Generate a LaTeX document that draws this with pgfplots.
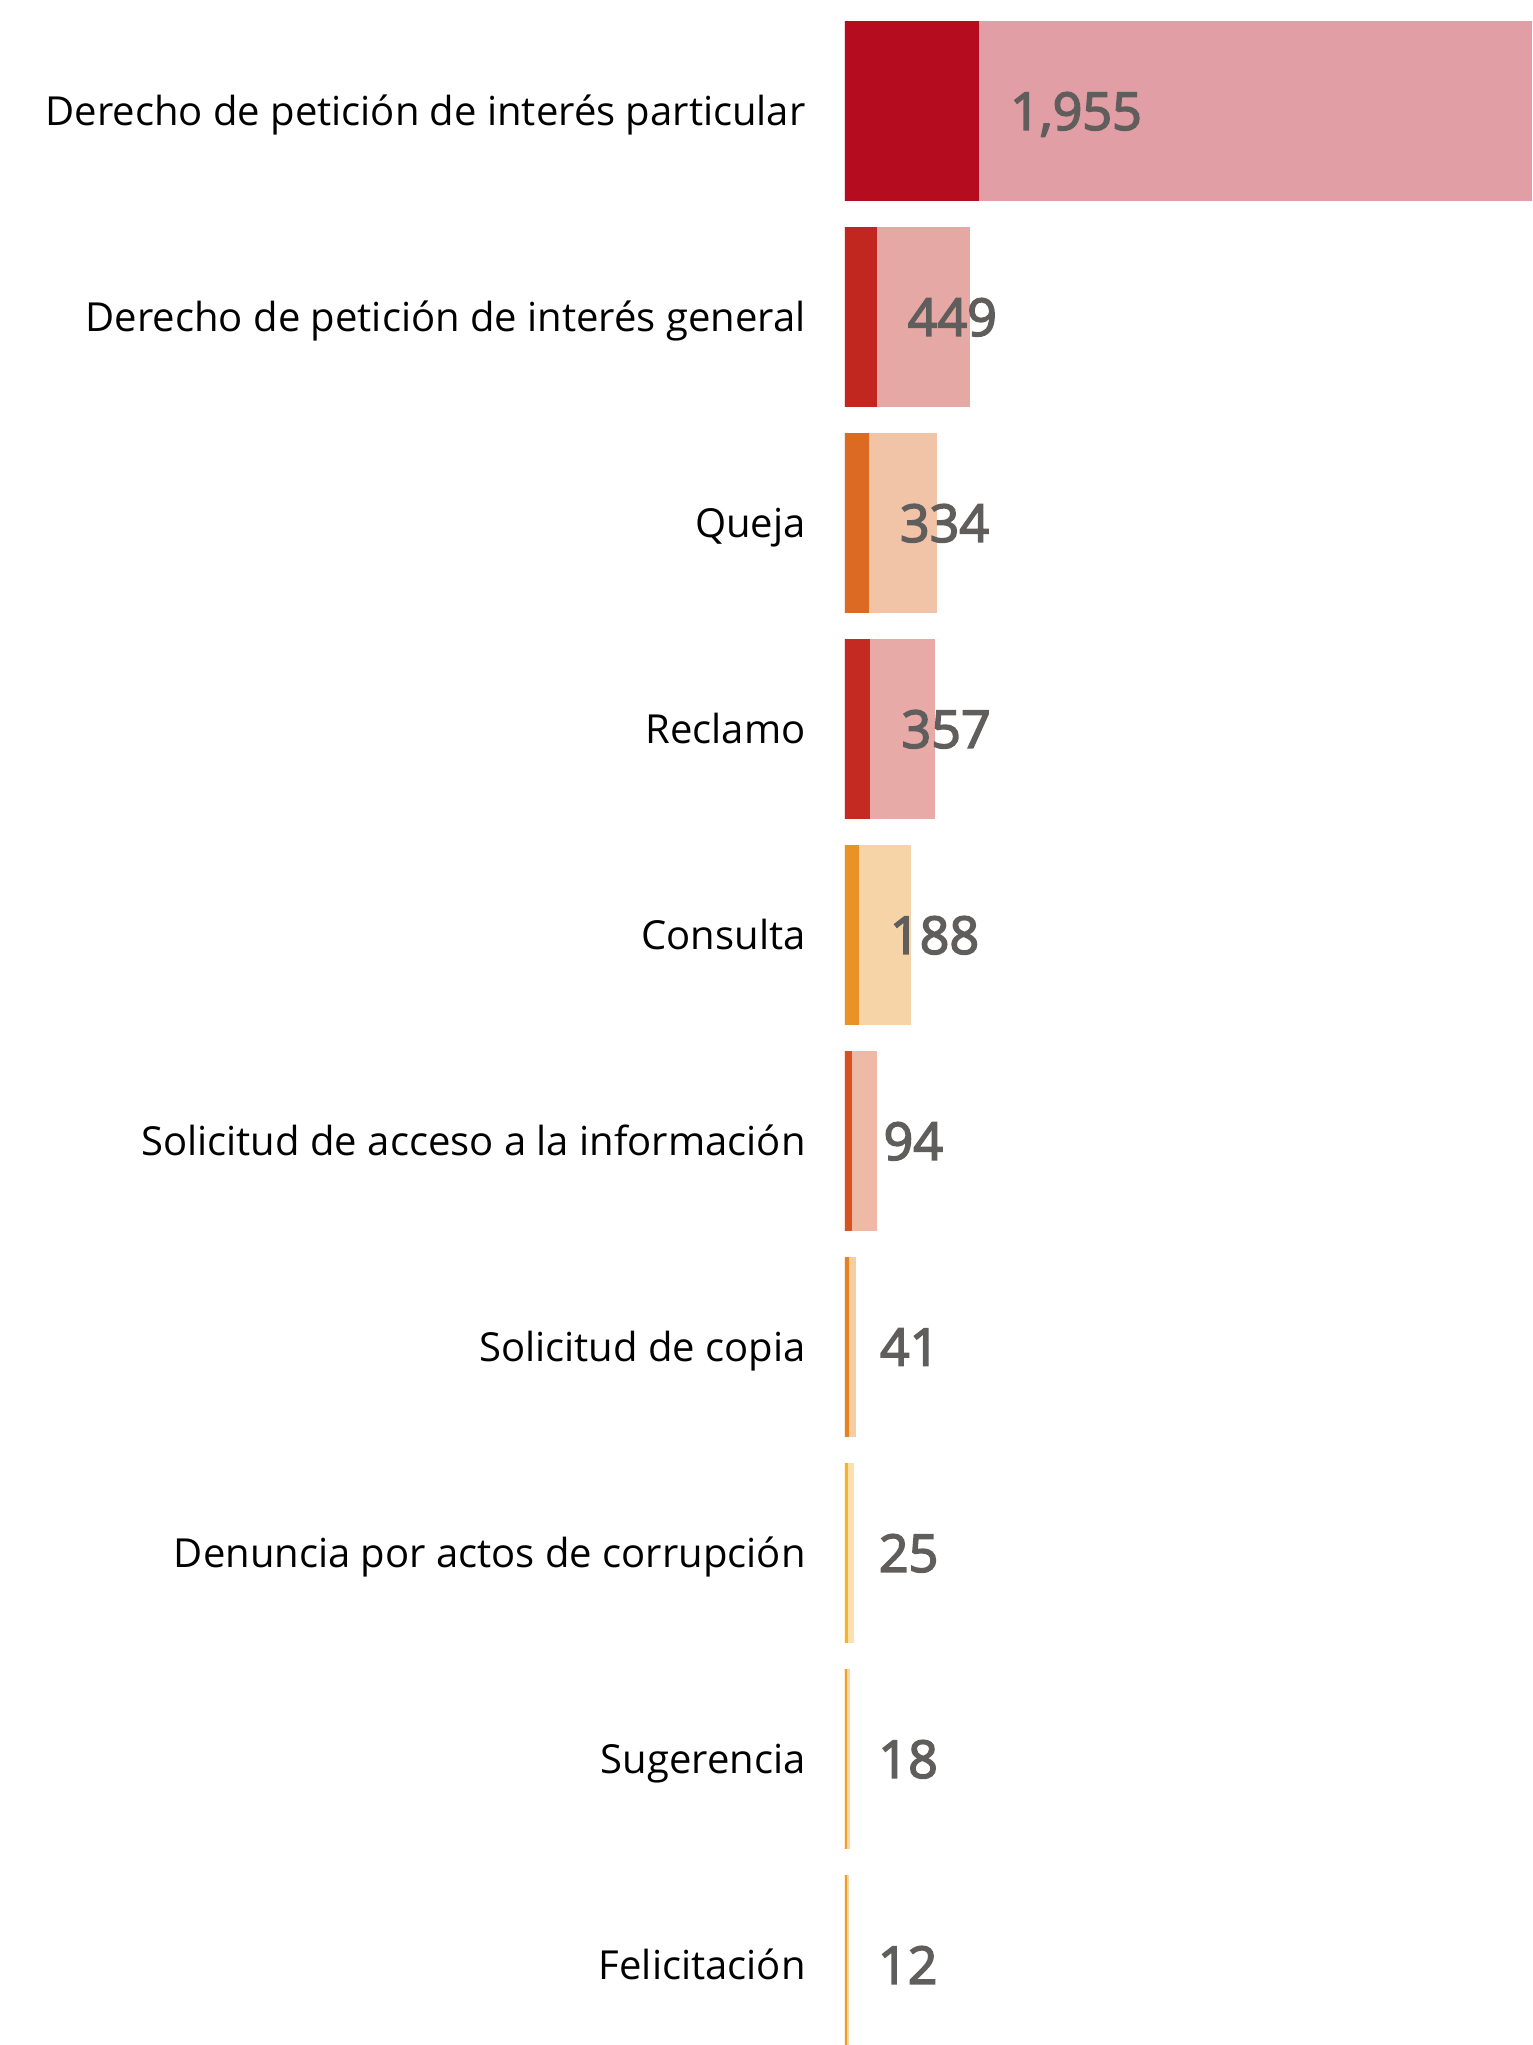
\documentclass[border=0pt]{standalone}
\usepackage{fontspec}
\setmainfont{Open Sans}
\newfontfamily\valfont{Open Sans}[FakeBold=3]
\usepackage{pgfplots}
\pgfplotsset{compat=1.18}
\definecolor{D1}{HTML}{B50D1F}
\definecolor{D2}{HTML}{C1261F}
\definecolor{D3}{HTML}{DC6A22}
\definecolor{D4}{HTML}{C42A22}
\definecolor{D5}{HTML}{EA9324}
\definecolor{D6}{HTML}{D6521F}
\definecolor{D7}{HTML}{E5821F}
\definecolor{D8}{HTML}{F9B12B}
\definecolor{D9}{HTML}{F0A025}
\definecolor{D10}{HTML}{EE9D26}
\colorlet{L1}{D1!40!white}
\colorlet{L2}{D2!40!white}
\colorlet{L3}{D3!40!white}
\colorlet{L4}{D4!40!white}
\colorlet{L5}{D5!40!white}
\colorlet{L6}{D6!40!white}
\colorlet{L7}{D7!40!white}
\colorlet{L8}{D8!40!white}
\colorlet{L9}{D9!40!white}
\colorlet{L10}{D10!40!white}
\definecolor{valgray}{HTML}{605E5C}
\begin{document}
\begin{tikzpicture}
\begin{axis}[
  name=ax,
  scale only axis,
  width=171.75pt, height=511.25pt,
  xmin=0, xmax=10100,
  ymin=-0.5388, ymax=9.3883,
  y dir=reverse,
  axis line style={draw=none},
  tick style={draw=none},
  major tick length=0pt,
  xtick=\empty,
  ytick={0,...,9},
  yticklabels={Derecho de petición de interés particular, Derecho de petición de interés general, Queja, Reclamo, Consulta, Solicitud de acceso a la información, Solicitud de copia, Denuncia por actos de corrupción, Sugerencia, Felicitación},
  y tick label style={anchor=east, inner sep=0pt, xshift=-9.65pt, font=\fontsize{10}{12}\selectfont, text=black, text height=7.1pt, text depth=0pt},
  bar width=0.8641,
  every axis plot/.append style={xbar, bar shift=0pt, line width=0.5pt},
  nodes near coords style={inner sep=0pt, xshift=7.8pt, text=valgray, font=\valfont\fontsize{13}{15}\selectfont, text depth=0pt},
  clip=true,
]
% light bars (background measure)
\addplot[fill=L1, draw=L1] coordinates {(11000,0)};
\addplot[fill=L2, draw=L2] coordinates {(1825,1)};
\addplot[fill=L3, draw=L3] coordinates {(1340,2)};
\addplot[fill=L4, draw=L4] coordinates {(1310,3)};
\addplot[fill=L5, draw=L5] coordinates {(957,4)};
\addplot[fill=L6, draw=L6] coordinates {(457,5)};
\addplot[fill=L7, draw=L7] coordinates {(148,6)};
\addplot[fill=L8, draw=L8] coordinates {(119,7)};
\addplot[fill=L9, draw=L9] coordinates {(60,8)};
\addplot[fill=L10, draw=L10] coordinates {(46,9)};
% dark bars (labelled values)
\pgfplotsset{every axis plot/.append style={point meta=x, nodes near coords={\pgfmathprintnumber[assume math mode=true, 1000 sep={,}]{\pgfplotspointmeta}}}}
\addplot[fill=D1, draw=D1] coordinates {(1955,0)};
\addplot[fill=D2, draw=D2] coordinates {(449,1)};
\addplot[fill=D3, draw=D3] coordinates {(334,2)};
\addplot[fill=D4, draw=D4] coordinates {(357,3)};
\addplot[fill=D5, draw=D5] coordinates {(188,4)};
\addplot[fill=D6, draw=D6] coordinates {(94,5)};
\addplot[fill=D7, draw=D7] coordinates {(41,6)};
\addplot[fill=D8, draw=D8] coordinates {(25,7)};
\addplot[fill=D9, draw=D9] coordinates {(18,8)};
\addplot[fill=D10, draw=D10] coordinates {(12,9)};
\end{axis}
\pgfresetboundingbox
\path[use as bounding box] ([xshift=-211.25pt]ax.south west) rectangle (ax.north east);
\end{tikzpicture}
\end{document}
